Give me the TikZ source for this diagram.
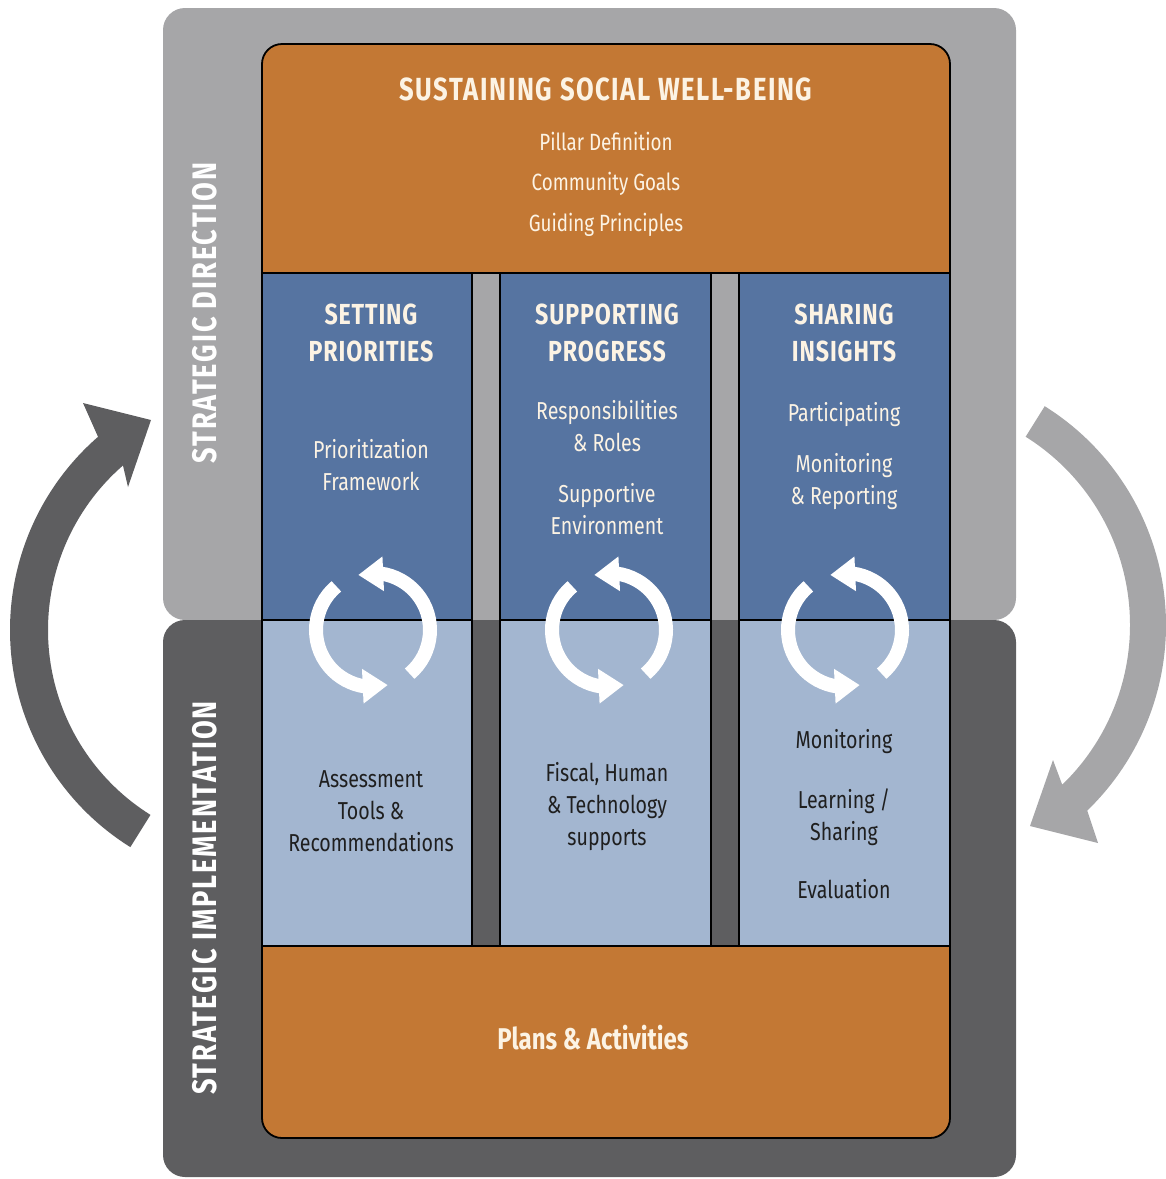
\documentclass[tikz,border=0pt]{standalone}
\usepackage{fontspec}
\setmainfont{Fira Sans}[FakeStretch=0.8]
\usetikzlibrary{arrows.meta,bending,calc}

\definecolor{pillarorange}{HTML}{C37834}
\definecolor{pillarblue}{HTML}{5674A1}
\definecolor{paleblue}{HTML}{A3B6D0}
\definecolor{dirgrey}{HTML}{A6A6A8}
\definecolor{impgrey}{HTML}{5E5E60}
\definecolor{cream}{HTML}{FCF3E4}
\definecolor{inktext}{HTML}{1F1F1F}

\begin{document}
\begin{tikzpicture}[
  x=1pt, y=-1pt,
  panel/.style = {draw=black, line width=1.8pt},
  titletxt/.style = {text=cream, font=\bfseries\fontsize{32}{38}\selectfont\addfontfeature{LetterSpace=5}},
  headtxt/.style = {text=cream, font=\bfseries\fontsize{29}{37}\selectfont\addfontfeature{LetterSpace=3}, align=center},
  bodytxt/.style = {text=cream, font=\fontsize{24.5}{32}\selectfont, align=center},
  darktxt/.style = {bodytxt, text=inktext},
  sidetxt/.style = {text=white, font=\bfseries\fontsize{34}{34}\selectfont\addfontfeature{LetterSpace=5.5}, rotate=90},
  cycarrow/.style = {white, line width=14pt, -{Triangle[length=25pt,width=33pt,flex]}}
  ]
  \useasboundingbox (0,0) rectangle (1166,1179);

  % background bands
  \fill[dirgrey, rounded corners=22pt] (163,8) rectangle (1016,620);
  \fill[impgrey, rounded corners=22pt] (163,620) rectangle (1016,1177);

  % big side arrows
  \coordinate (lc) at (266,630);
  \coordinate (rc) at (908,625);
  \fill[impgrey] ($(lc)+(122:256)$) arc[start angle=122, end angle=229, radius=256]
    -- (83,403) -- (151,420) -- (128,487)
    -- ($(lc)+(229:218)$) arc[start angle=229, end angle=122, radius=218] -- cycle;
  \fill[dirgrey] ($(rc)+(-58:258)$) arc[start angle=-58, end angle=46, radius=258]
    -- (1098,843) -- (1030,826) -- (1053,760)
    -- ($(rc)+(46:222)$) arc[start angle=46, end angle=-58, radius=222] -- cycle;

  % frame
  \filldraw[panel, fill=pillarorange, rounded corners=20pt] (262,44) rectangle (950,1138);
  \foreach \gl/\gr in {472/500, 711/739}{
    \fill[dirgrey] (\gl,273) rectangle (\gr,620);
    \fill[impgrey] (\gl,620) rectangle (\gr,946);
  }
  \foreach \cl/\cr in {262/472, 500/711, 739/950}{
    \filldraw[panel, fill=pillarblue] (\cl,273) rectangle (\cr,620);
    \filldraw[panel, fill=paleblue] (\cl,620) rectangle (\cr,946);
  }
  \draw[panel] (262,273) -- (950,273);
  \draw[panel] (262,946) -- (950,946);

  % cycles
  \foreach \cx in {373,609,845}{
    \coordinate (cyc) at (\cx,630);
    \draw[cycarrow] ($(cyc)+(230:57)$) arc[start angle=230, end angle=75, radius=57];
    \draw[cycarrow] ($(cyc)+(50:57)$) arc[start angle=50, end angle=-105, radius=57];
  }

  % texts
  \node[titletxt] (title) at (606,89) {SUSTAINING SOCIAL WELL-BEING};
  \node[bodytxt, font=\fontsize{23.5}{40.5}\selectfont] (pillar) at (606,184)
    {Pillar Definition\\Community Goals\\Guiding Principles};

  \node[headtxt] (setting) at (371,333) {SETTING\\PRIORITIES};
  \node[headtxt] (supporting) at (607,333) {SUPPORTING\\PROGRESS};
  \node[headtxt] (sharing) at (844,333) {SHARING\\INSIGHTS};

  \node[bodytxt] (framework) at (371,465) {Prioritization\\Framework};
  \node[bodytxt] (roles) at (607,426) {Responsibilities\\\& Roles};
  \node[bodytxt] (environment) at (607,509) {Supportive\\Environment};
  \node[bodytxt] (participating) at (844,415) {Participating};
  \node[bodytxt] (reporting) at (844,482) {Monitoring\\\& Reporting};

  \node[darktxt] (assessment) at (371,811) {Assessment\\Tools \&\\Recommendations};
  \node[darktxt] (supports) at (607,807) {Fiscal, Human\\\& Technology\\supports};
  \node[darktxt] (monitoring) at (844,742) {Monitoring};
  \node[darktxt] (learning) at (844,817) {Learning /\\Sharing};
  \node[darktxt] (evaluation) at (844,889) {Evaluation};

  \node[text=cream, font=\bfseries\fontsize{30}{34}\selectfont] (plans) at (593,1038) {Plans \& Activities};

  \node[sidetxt] (direction) at (205,313) {STRATEGIC DIRECTION};
  \node[sidetxt] (implementation) at (205,898) {STRATEGIC IMPLEMENTATION};
\end{tikzpicture}
\end{document}
